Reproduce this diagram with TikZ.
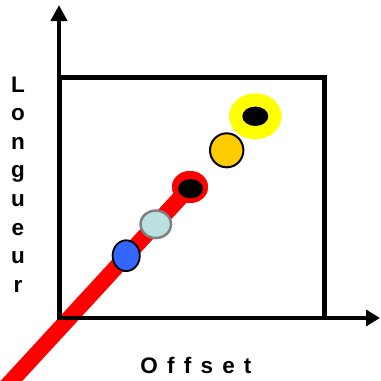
\documentclass[tikz,border=0pt]{standalone}
\usepackage{fontspec}
\setmainfont{Liberation Sans}
\usetikzlibrary{arrows.meta,shapes.geometric}
\definecolor{cblue}{RGB}{51,102,255}
\definecolor{clight}{RGB}{187,224,226}
\definecolor{cgray}{RGB}{128,128,128}
\definecolor{corange}{RGB}{255,204,0}
\definecolor{cyellow}{RGB}{255,255,0}
\definecolor{cred}{RGB}{255,0,0}
\begin{document}
\begin{tikzpicture}[x=1pt,y=-1pt,
  axisline/.style={line width=4.5pt, line join=miter, black},
  redline/.style={line width=16pt, cred, line cap=butt},
  ell/.style={ellipse, inner sep=0pt},
  lab/.style={font=\bfseries\fontsize{22.5}{28.6}\selectfont, inner sep=0pt, text=black}]
\useasboundingbox (0,0) rectangle (381,381);
% coordinates
\coordinate (rstart) at (-1.5,395);
\coordinate (origin) at (59,318);
\coordinate (ytip) at (59,5);
\coordinate (xtip) at (380,318);
\coordinate (boxtl) at (60,77.5);
\coordinate (boxbr) at (324.5,318);
% ring node first (for red line end)
\node[ell, fill=cred, minimum width=36pt, minimum height=32pt] (ring) at (190,187) {};
% red line
\draw[redline] (rstart) -- (ring.center);
% axes and box
\draw[axisline] (boxtl) rectangle (boxbr);
\draw[axisline, {Triangle[length=16pt,width=16pt]}-{Triangle[length=14pt,width=16pt]}] (ytip) -- (origin) -- (xtip);
% circles
\node[ell, fill=cred, minimum width=36pt, minimum height=32pt] (ringb) at (ring.center) {};
\node[ell, fill=black, minimum width=25pt, minimum height=19.4pt] (ringc) at (190.5,188.7) {};
\node[ell, draw=black, line width=1.8pt, fill=cblue, minimum width=27.2pt, minimum height=30.8pt] (blue) at (126.2,255.7) {};
\node[ell, draw=cgray, line width=2.5pt, fill=clight, minimum width=30.5pt, minimum height=27.5pt] (light) at (155.8,224.3) {};
\node[ell, draw=black, line width=2pt, fill=corange, minimum width=33.4pt, minimum height=34pt] (orange) at (226.7,150.3) {};
\node[ell, fill=cyellow, minimum width=52.6pt, minimum height=46pt] (yel) at (255.3,116.3) {};
\node[ell, fill=black, minimum width=26pt, minimum height=19.4pt] (yelc) at (yel.center) {};
% labels
\node[lab, align=center, anchor=north] (ylab) at (18,76.5) {L\\o\\n\\g\\u\\e\\u\\r};
\node[lab, anchor=base] (xlab) at (196,373) {\spaceskip=9.2pt O f f s e t};
\end{tikzpicture}
\end{document}
